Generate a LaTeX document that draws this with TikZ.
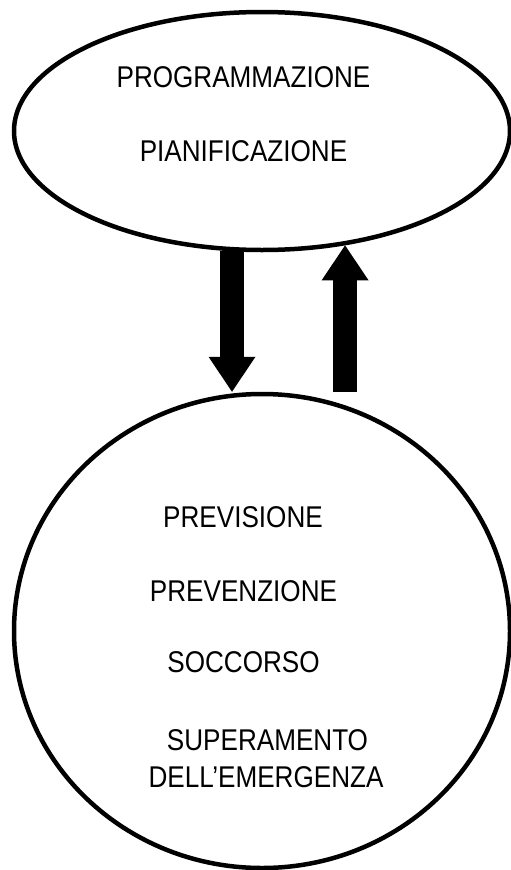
\documentclass[tikz,border=0pt]{standalone}
\usepackage{fontspec}
\setmainfont{Liberation Sans}[FakeStretch=0.87]
\usetikzlibrary{shapes.geometric,arrows.meta,positioning,calc}

\tikzset{
  blob/.style={draw, ellipse, line width=4.5pt, inner sep=0pt},
  label/.style={inner sep=0pt, anchor=base, font=\fontsize{30}{37}\selectfont},
  blockarrow/.style={line width=23.5pt,
    -{Triangle[width=47pt,length=35pt,line width=0pt]}}
}

\begin{document}
\begin{tikzpicture}[x=1pt,y=-1pt]
	\useasboundingbox (0,0) rectangle (511,870);

	% the two areas
	\node [blob, minimum width=496pt, minimum height=238pt] (plan) at (262,131) {};
	\node [blob, minimum width=496pt, minimum height=474pt] (circ) at (262,631) {};

	\node [label] (prog) at (243.5,87) {PROGRAMMAZIONE};
	\node [label] (pian) at (243.5,161) {PIANIFICAZIONE};

	\node [label] (prev) at (243,527) {PREVISIONE};
	\node [label] (prevz) at (243.5,601) {PREVENZIONE};
	\node [label] (socc) at (243.5,672) {SOCCORSO};
	\node [label] (super) at (267.5,750) {SUPERAMENTO};
	\node [label] (dell) at (266,787) {DELL’EMERGENZA};

	% arrows between the two
	\draw[blockarrow] (plan.256) -- (plan.256 |- circ.north);
	\draw[blockarrow] (circ.north -| plan.306) -- (plan.306);
\end{tikzpicture}
\end{document}
